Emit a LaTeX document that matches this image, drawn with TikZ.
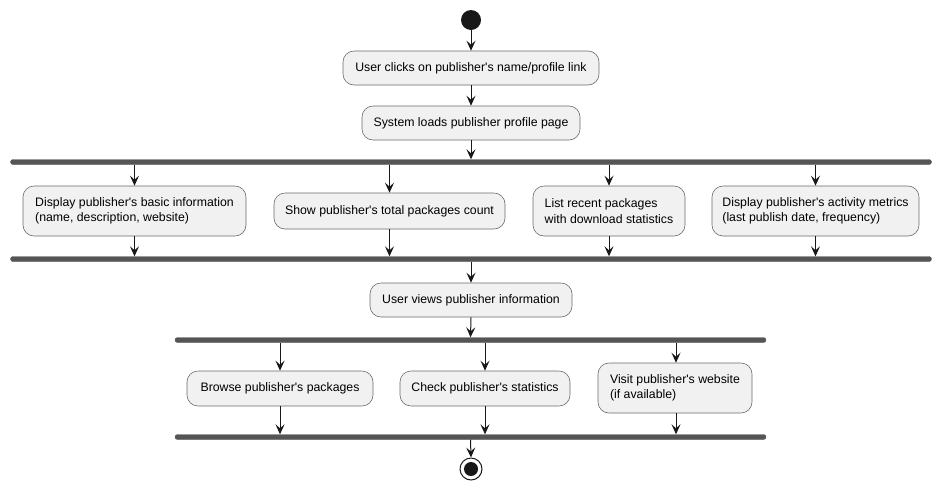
\documentclass[tikz,border=0pt]{standalone}
\usepackage{fontspec}
\setmainfont{Liberation Sans}
\usetikzlibrary{arrows.meta}
\definecolor{boxfill}{HTML}{F1F1F1}
\definecolor{boxline}{HTML}{6A6A6A}
\definecolor{barfill}{HTML}{555555}
\definecolor{ink}{HTML}{181818}
\newcommand{\q}{\textquotesingle}
\begin{document}
\begin{tikzpicture}[x=1pt,y=-1pt,
  act/.style={draw=boxline,line width=0.6pt,fill=boxfill,rounded corners=11pt,
    font=\fontsize{12.3}{15.5}\selectfont,text=black,inner sep=0pt,align=left},
  bar/.style={fill=barfill,draw=barfill,rounded corners=2.5pt,inner sep=0pt,minimum height=5pt},
  flow/.style={draw=ink,line width=1pt,-{Stealth[length=10pt,width=9pt,inset=4pt]}}]
\useasboundingbox (0,0) rectangle (941,491);

\node[circle,fill=ink,minimum size=20pt,inner sep=0pt] (start) at (471,20) {};
\node[act,minimum width=256pt,minimum height=34pt] (b1) at (471,68) {User clicks on publisher\q s name/profile link};
\node[act,minimum width=218pt,minimum height=34pt] (b2) at (471,123) {System loads publisher profile page};
\node[bar,minimum width=921pt] (f1) at (471,162) {};

\node[act,minimum width=223pt,minimum height=50pt] (a) at (134.5,211) {Display publisher\q s basic information\\(name, description, website)};
\node[act,minimum width=231pt,minimum height=36pt] (b) at (389.5,211) {Show publisher\q s total packages count};
\node[act,minimum width=152pt,minimum height=50pt] (c) at (609,211) {List recent packages\\with download statistics};
\node[act,minimum width=207pt,minimum height=50pt] (d) at (815.5,211) {Display publisher\q s activity metrics\\(last publish date, frequency)};

\node[bar,minimum width=921pt] (j1) at (471,259) {};
\node[act,minimum width=202pt,minimum height=34pt] (v) at (471,300) {User views publisher information};
\node[bar,minimum width=591pt] (f2) at (470.5,340) {};

\node[act,minimum width=186pt,minimum height=35pt] (e) at (280,388.5) {Browse publisher\q s packages};
\node[act,minimum width=170pt,minimum height=35pt] (f) at (485,388.5) {Check publisher\q s statistics};
\node[act,minimum width=154pt,minimum height=50pt] (g) at (675,388) {Visit publisher\q s website\\(if available)};

\node[bar,minimum width=591pt] (j2) at (470.5,437) {};
\node[circle,draw=ink,line width=1pt,fill=white,minimum size=22pt,inner sep=0pt] (end) at (471,469) {};
\node[circle,fill=ink,minimum size=14pt,inner sep=0pt] (endin) at (end) {};

\draw[flow] (start) -- (b1);
\draw[flow] (b1) -- (b2);
\draw[flow] (b2) -- (f1.north);
\foreach \n in {a,b,c,d}{
  \draw[flow] (\n.north |- f1.south) -- (\n.north);
  \draw[flow] (\n.south) -- (\n.south |- j1.north);
}
\draw[flow] (j1.south) -- (v.north);
\draw[flow] (v.south) -- (f2.north);
\foreach \n in {e,f}{
  \draw[flow] (\n.north |- f2.south) -- (\n.north);
  \draw[flow] (\n.south) -- (\n.south |- j2.north);
}
\draw[flow] ([xshift=1pt]g.north |- f2.south) -- ([xshift=1pt]g.north);
\draw[flow] ([xshift=1pt]g.south) -- ([xshift=1pt]g.south |- j2.north);
\draw[flow] (j2.south) -- (end.north);
\end{tikzpicture}
\end{document}
